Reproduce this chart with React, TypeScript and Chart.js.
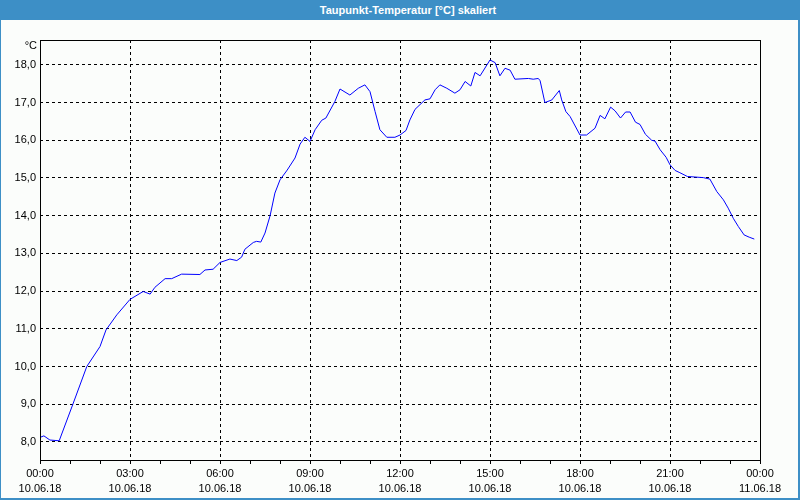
import React, { useEffect, useRef } from "react";
import { Chart, registerables } from "chart.js";

Chart.register(...registerables);

const titleText = "Taupunkt-Temperatur [°C] skaliert";
const unitLabel = "°C";

// time of day in hours
const times = [
  0.0, 0.13, 0.33, 0.64, 1.11, 1.56, 2.0, 2.2, 2.56, 3.0, 3.44, 3.67, 3.83, 4.17, 4.39, 4.72,
  5.33, 5.5, 5.77, 6.0, 6.33, 6.56, 6.72, 6.83, 7.11, 7.22, 7.36, 7.5, 7.67, 7.83, 8.0, 8.24,
  8.5, 8.67, 8.83, 9.0, 9.17, 9.39, 9.53, 9.83, 10.0, 10.33, 10.61, 10.83, 11.0, 11.17, 11.33,
  11.56, 11.83, 12.0, 12.2, 12.33, 12.5, 12.83, 13.0, 13.17, 13.33, 13.56, 13.83, 14.0, 14.17,
  14.36, 14.5, 14.67, 15.0, 15.17, 15.33, 15.5, 15.67, 15.83, 16.28, 16.44, 16.61, 16.67, 16.83,
  17.06, 17.31, 17.39, 17.53, 17.67, 18.0, 18.22, 18.5, 18.67, 18.83, 19.02, 19.17, 19.35, 19.52,
  19.67, 19.85, 20.0, 20.18, 20.39, 20.5, 20.67, 20.87, 21.0, 21.17, 21.33, 21.58, 22.11, 22.33,
  22.56, 22.78, 22.94, 23.11, 23.28, 23.47, 23.64, 23.81,
];

const dewPoint = [
  8.12, 8.16, 8.05, 8.03, 9.03, 10.0, 10.53, 10.97, 11.37, 11.78, 11.99, 11.92, 12.1, 12.33, 12.33, 12.45,
  12.44, 12.56, 12.58, 12.76, 12.85, 12.81, 12.9, 13.11, 13.29, 13.32, 13.3, 13.54, 14.0, 14.6, 14.95, 15.21,
  15.53, 15.9, 16.08, 15.97, 16.28, 16.53, 16.59, 17.03, 17.36, 17.2, 17.38, 17.47, 17.29, 16.76, 16.28,
  16.08, 16.08, 16.14, 16.26, 16.54, 16.82, 17.07, 17.1, 17.34, 17.47, 17.38, 17.25, 17.34, 17.56,
  17.44, 17.8, 17.71, 18.13, 18.06, 17.71, 17.91, 17.86, 17.62, 17.64, 17.62, 17.64, 17.58, 17.0,
  17.07, 17.32, 17.07, 16.76, 16.63, 16.14, 16.14, 16.32, 16.66, 16.57, 16.88, 16.78, 16.59, 16.75,
  16.75, 16.48, 16.42, 16.16, 16.0, 15.98, 15.75, 15.55, 15.35, 15.2, 15.14, 15.04, 15.01, 14.97,
  14.64, 14.42, 14.2, 13.93, 13.71, 13.49, 13.43, 13.38,
];

const xTickHours = [0, 1, 2, 3, 4, 5, 6, 7, 8, 9, 10, 11, 12, 13, 14, 15, 16, 17, 18, 19, 20, 21, 22, 23, 24];
const xTimeLabels = ["00:00", "03:00", "06:00", "09:00", "12:00", "15:00", "18:00", "21:00", "00:00"];
const xDateLabels = ["10.06.18", "10.06.18", "10.06.18", "10.06.18", "10.06.18", "10.06.18", "10.06.18", "10.06.18", "11.06.18"];
const yTicks = [8, 9, 10, 11, 12, 13, 14, 15, 16, 17, 18];

const FONT = "'Liberation Sans', Arial, sans-serif";

export default function App() {
  const canvasRef = useRef<HTMLCanvasElement | null>(null);

  useEffect(() => {
    document.body.style.margin = "0";
    const canvas = canvasRef.current;
    if (!canvas) return;

    const framePlugin = {
      id: "frame",
      afterDraw(chart: any) {
        const { ctx, chartArea } = chart;
        ctx.save();
        ctx.strokeStyle = "#000";
        ctx.lineWidth = 1;
        ctx.setLineDash([]);
        ctx.strokeRect(
          Math.round(chartArea.left) + 0.5,
          Math.round(chartArea.top) + 0.5,
          Math.round(chartArea.right - chartArea.left),
          Math.round(chartArea.bottom - chartArea.top)
        );
        ctx.fillStyle = "#000";
        ctx.font = "11px " + FONT;
        ctx.textAlign = "right";
        ctx.textBaseline = "middle";
        ctx.fillText(unitLabel, chartArea.left - 3, chartArea.top + 6);
        ctx.restore();
      },
    };

    const chart = new Chart(canvas, {
      type: "line",
      data: {
        datasets: [
          {
            data: times.map((t, i) => ({ x: t, y: dewPoint[i] })),
            borderColor: "#0000ff",
            borderWidth: 1,
            pointRadius: 0,
            tension: 0,
            fill: false,
          },
        ],
      },
      options: {
        responsive: false,
        animation: false,
        devicePixelRatio: 1,
        layout: { padding: { top: 20, right: 38, left: 0, bottom: 0 } },
        plugins: {
          legend: { display: false },
          tooltip: { enabled: false },
          title: { display: false },
        },
        scales: {
          x: {
            type: "linear",
            min: 0,
            max: 24,
            afterBuildTicks: (s: any) => {
              s.ticks = xTickHours.map((v) => ({ value: v }));
            },
            afterFit: (s: any) => {
              s.height = 38;
            },
            ticks: {
              autoSkip: false,
              maxRotation: 0,
              minRotation: 0,
              padding: 2,
              color: "#000",
              font: { family: FONT, size: 11, lineHeight: 1.4 },
              callback: (v: any) => {
                const n = Number(v);
                if (n % 3 !== 0) return "";
                const i = n / 3;
                return [xTimeLabels[i], xDateLabels[i]];
              },
            },
            grid: {
              drawTicks: true,
              tickLength: 4,
              tickColor: "#000",
              tickBorderDash: [],
              color: (ctx: any) => {
                const v = ctx.tick ? ctx.tick.value : -1;
                return v % 3 === 0 && v > 0 && v < 24 ? "#000" : "rgba(0,0,0,0)";
              },
              lineWidth: 1,
            },
            border: { display: false, dash: [3, 3] },
          },
          y: {
            type: "linear",
            min: 7.52,
            max: 18.66,
            afterBuildTicks: (s: any) => {
              s.ticks = yTicks.map((v) => ({ value: v }));
            },
            afterFit: (s: any) => {
              s.width = 39;
            },
            ticks: {
              padding: 4,
              color: "#000",
              font: { family: FONT, size: 11 },
              callback: (v: any) => Number(v).toFixed(1).replace(".", ","),
            },
            grid: {
              drawTicks: false,
              color: "#000",
              lineWidth: 1,
            },
            border: { display: false, dash: [3, 3] },
          },
        },
      },
      plugins: [framePlugin],
    });

    return () => chart.destroy();
  }, []);

  return (
    <div
      style={{
        position: "absolute",
        left: 0,
        top: 0,
        width: 800,
        height: 500,
        background: "#3d8fc6",
      }}
    >
      <div
        style={{
          position: "absolute",
          left: 0,
          top: 0,
          width: 800,
          height: 20,
          lineHeight: "20px",
          color: "#fff",
          fontFamily: FONT,
          fontWeight: "bold",
          fontSize: 11,
          textAlign: "center",
          paddingLeft: 16,
          boxSizing: "border-box",
        }}
      >
        {titleText}
      </div>
      <div
        style={{
          position: "absolute",
          left: 1,
          top: 20,
          width: 797,
          height: 478,
          background: "#fbfdfb",
        }}
      >
        <canvas ref={canvasRef} width={797} height={478} style={{ display: "block", width: 797, height: 478 }} />
      </div>
    </div>
  );
}
